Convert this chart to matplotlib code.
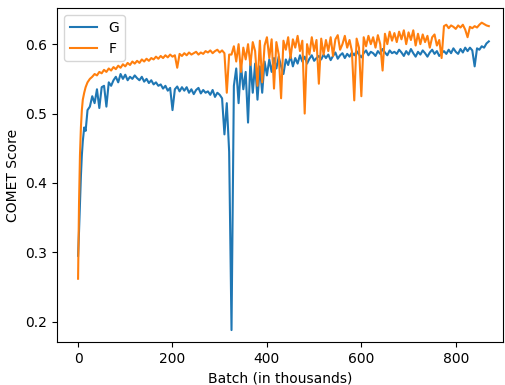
import numpy as np
import matplotlib
matplotlib.use('Agg')
import matplotlib.pyplot as plt

# batch positions (thousands): fine steps at the start, then every 5k
batch = [0, 2, 4, 6, 8, 10, 13, 16, 20] + list(range(25, 875, 5))

# COMET score, run G
comet_g = [
    0.295, 0.33, 0.37, 0.41, 0.44, 0.46, 0.48, 0.475, 0.505,
    0.51, 0.525, 0.515, 0.535, 0.508, 0.538, 0.54, 0.51, 0.545, 0.54,
    0.548, 0.553, 0.545, 0.557, 0.55, 0.556, 0.548, 0.553, 0.55, 0.555,
    0.551, 0.548, 0.553, 0.546, 0.55, 0.544, 0.548, 0.542, 0.545, 0.54,
    0.542, 0.536, 0.54, 0.533, 0.537, 0.505, 0.535, 0.539, 0.532, 0.538,
    0.533, 0.538, 0.53, 0.535, 0.528, 0.534, 0.537, 0.529, 0.534, 0.53,
    0.532, 0.527, 0.534, 0.524, 0.53, 0.527, 0.522, 0.47, 0.515, 0.445,
    0.188, 0.54, 0.565, 0.515, 0.57, 0.535, 0.56, 0.487, 0.575, 0.53,
    0.572, 0.52, 0.568, 0.53, 0.575, 0.555, 0.578, 0.56, 0.58, 0.565,
    0.582, 0.568, 0.557, 0.578, 0.57, 0.583, 0.568, 0.58, 0.572, 0.584,
    0.575, 0.582, 0.572, 0.579, 0.584, 0.576, 0.58, 0.583, 0.578, 0.585,
    0.58, 0.585, 0.577, 0.583, 0.588, 0.579, 0.584, 0.587, 0.58, 0.586,
    0.582, 0.588, 0.584, 0.59, 0.585, 0.581, 0.587, 0.591, 0.584, 0.589,
    0.587, 0.583, 0.59, 0.586, 0.593, 0.588, 0.584, 0.591, 0.587, 0.589,
    0.586, 0.592, 0.588, 0.583, 0.59, 0.585, 0.593, 0.587, 0.582, 0.589,
    0.585, 0.591, 0.587, 0.582, 0.588, 0.592, 0.586, 0.59, 0.583, 0.587,
    0.59, 0.586, 0.592, 0.587, 0.594, 0.589, 0.586, 0.593, 0.588, 0.595,
    0.59, 0.595, 0.591, 0.568, 0.594, 0.592, 0.597, 0.595, 0.601, 0.604,
]

# COMET score, run F
comet_f = [
    0.262, 0.37, 0.44, 0.48, 0.505, 0.52, 0.53, 0.538, 0.545,
    0.55, 0.553, 0.557, 0.555, 0.56, 0.558, 0.563, 0.56, 0.565, 0.562,
    0.567, 0.564, 0.569, 0.566, 0.571, 0.568, 0.573, 0.57, 0.575, 0.572,
    0.576, 0.573, 0.578, 0.575, 0.579, 0.576, 0.58, 0.578, 0.582, 0.579,
    0.583, 0.58, 0.584, 0.581, 0.585, 0.582, 0.584, 0.566, 0.586, 0.583,
    0.587, 0.584, 0.588, 0.585, 0.587, 0.589, 0.585, 0.588, 0.586, 0.59,
    0.588, 0.591, 0.587, 0.59, 0.592, 0.588, 0.591, 0.587, 0.53, 0.585,
    0.585, 0.597, 0.575, 0.6, 0.56, 0.595, 0.578, 0.6, 0.57, 0.603,
    0.59, 0.54, 0.605, 0.545, 0.598, 0.61, 0.58, 0.607, 0.536, 0.603,
    0.585, 0.522, 0.605, 0.592, 0.61, 0.58, 0.607, 0.595, 0.612, 0.59,
    0.605, 0.5, 0.6, 0.585, 0.61, 0.59, 0.606, 0.543, 0.608, 0.585,
    0.606, 0.59, 0.61, 0.583, 0.607, 0.613, 0.592, 0.6, 0.612, 0.595,
    0.606, 0.59, 0.519, 0.608, 0.595, 0.525, 0.61, 0.597, 0.612, 0.6,
    0.61, 0.595, 0.613, 0.6, 0.562, 0.615, 0.6, 0.618, 0.605, 0.616,
    0.603, 0.618, 0.607, 0.62, 0.6, 0.617, 0.606, 0.62, 0.598, 0.615,
    0.6, 0.614, 0.603, 0.612, 0.595, 0.61, 0.614, 0.598, 0.606, 0.58,
    0.626, 0.628, 0.623, 0.627, 0.625, 0.622, 0.627, 0.624, 0.628, 0.621,
    0.61, 0.625, 0.623, 0.626, 0.624, 0.628, 0.631, 0.629, 0.627, 0.626,
]

fig = plt.figure(figsize=(5.05, 3.85), dpi=100)
ax = fig.add_axes([0.113, 0.112, 0.883, 0.867])

ax.plot(batch, comet_g, label='G')
ax.plot(batch, comet_f, label='F')

ax.set_xlim(-44.5, 900)
ax.set_ylim(0.171, 0.652)
ax.set_xlabel('Batch (in thousands)')
ax.set_ylabel('COMET Score')
ax.legend(loc='upper left')

fig.savefig('out.png', dpi=100)
